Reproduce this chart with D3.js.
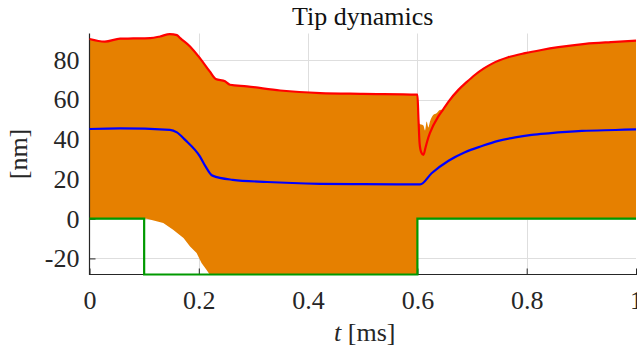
<!DOCTYPE html>
<html>
<head>
<meta charset="utf-8">
<script src="https://cdn.jsdelivr.net/npm/d3@7"></script>
<style>
  body { margin: 0; background: #fff; }
  svg { display: block; }
</style>
</head>
<body>
<svg width="637" height="351"></svg>
<script>
// upper envelope of the tip oscillation (red)
const tUpper = [0, 0.028, 0.056, 0.08, 0.111, 0.129, 0.147, 0.16, 0.166, 0.184,
  0.202, 0.22, 0.231, 0.248, 0.257, 0.288, 0.349, 0.422, 0.5, 0.6,
  0.602, 0.604, 0.607, 0.611, 0.615, 0.619, 0.623, 0.638, 0.647, 0.657,
  0.675, 0.69, 0.705, 0.721, 0.736, 0.766, 0.797, 0.827, 0.858, 0.907,
  0.954, 1];
const upper = [90.5, 89.2, 90.7, 90.8, 91.0, 91.8, 93.0, 92.5, 91.0, 86.8,
  80.9, 74.2, 70.4, 69.2, 67.5, 66.7, 64.6, 63.3, 62.9, 62.5,
  50, 38, 33.5, 32.2, 36, 40, 43.2, 51.4, 55.0, 59.0,
  64.9, 68.8, 72.4, 75.6, 78.0, 81.3, 83.4, 85.0, 86.4, 88.1,
  89.0, 89.7];

// mean tip position (blue)
const tMean = [0, 0.056, 0.147, 0.16, 0.175, 0.202, 0.212, 0.225, 0.262, 0.325,
  0.422, 0.5, 0.605, 0.626, 0.657, 0.687, 0.718, 0.748, 0.779, 0.809,
  0.84, 0.901, 0.962, 1];
const mean = [45.2, 45.5, 44.8, 43.5, 39.7, 31.4, 26.5, 21.7, 19.6, 18.5,
  17.6, 17.4, 17.3, 22.9, 29.2, 33.5, 36.6, 39.2, 41.0, 42.2,
  43.0, 44.2, 44.7, 45.0];

// lowest tip position reached (lower edge of the orange band)
const tLower = [0, 0.1, 0.105, 0.135, 0.153, 0.172, 0.184, 0.196, 0.205, 0.214,
  0.22, 0.23, 0.6, 0.6, 1];
const lower = [0, 0, 0, -2.2, -5.5, -9.7, -14, -17.3, -22.3, -25.7,
  -28.1, -32, -32, 0, 0];

// top of the band just after the snap-in at 0.6 ms
const tDip = [0.601, 0.603, 0.611, 0.614, 0.617, 0.620, 0.623, 0.629, 0.635, 0.641];
const dipTop = [62.5, 48, 47, 44.5, 49, 46, 49, 52.3, 53.1, 54.8];

// sample surface (green)
const tSurface = [0, 0.1, 0.1, 0.6, 0.6, 1];
const surface = [0, 0, -28.1, -28.1, 0, 0];

const xTicks = [0, 0.2, 0.4, 0.6, 0.8, 1];
const yTicks = [-20, 0, 20, 40, 60, 80];

const svg = d3.select('svg');
const font = 'Liberation Serif, Times New Roman, serif';
const ink = '#262626';

const x = d3.scaleLinear().domain([0, 1]).range([89.5, 636]);
const y = d3.scaleLinear().domain([-28.1, 93.3]).range([274.5, 33.5]);
const [x0, x1] = x.range();
const [yb, yt] = y.range();

const defs = svg.append('defs');
defs.append('clipPath').attr('id', 'plot')
  .append('rect').attr('x', x0 + 0.5).attr('y', yt).attr('width', x1 - x0).attr('height', yb - yt);

const lowerPts = tLower.map((t, i) => [t, lower[i]]);
defs.append('clipPath').attr('id', 'above-lower')
  .append('path')
  .attr('d', d3.area()
    .x(d => x(d[0]))
    .y0(d => y(d[1]))
    .y1(0)(lowerPts));

// grid
const grid = svg.append('g').attr('stroke', '#dedede').attr('stroke-width', 1);
grid.selectAll('.gx').data(xTicks.slice(1, -1)).enter().append('line')
  .attr('x1', d => Math.round(x(d)) + 0.5).attr('x2', d => Math.round(x(d)) + 0.5)
  .attr('y1', yt).attr('y2', yb);
grid.selectAll('.gy').data(yTicks).enter().append('line')
  .attr('x1', x0).attr('x2', x1)
  .attr('y1', d => Math.round(y(d)) + 0.5).attr('y2', d => Math.round(y(d)) + 0.5);

// axes (ticks under the data, like matlab's bottom layer)
const xAxis = svg.append('g')
  .attr('transform', 'translate(0,' + yb + ')')
  .call(d3.axisBottom(x).tickValues(xTicks).tickSize(-6).tickPadding(16).tickFormat(d => String(d)));
const yAxis = svg.append('g')
  .attr('transform', 'translate(' + x0 + ',0)')
  .call(d3.axisLeft(y).tickValues(yTicks).tickSize(-6).tickPadding(10).tickFormat(d => String(d)));
[xAxis, yAxis].forEach(a => {
  a.select('.domain').remove();
  a.attr('font-family', font).attr('font-size', 26);
  a.selectAll('line').attr('stroke', ink);
  a.selectAll('text').attr('fill', ink);
});

// orange band: top follows the red envelope, except around the snap-in
const fillPts = tUpper.map((t, i) => [t, upper[i]])
  .filter(d => d[0] <= 0.6 || d[0] >= 0.647)
  .concat(tDip.map((t, i) => [t, dipTop[i]]))
  .sort((a, b) => a[0] - b[0]);

svg.append('g').attr('clip-path', 'url(#plot)')
  .append('g').attr('clip-path', 'url(#above-lower)')
  .append('path')
  .attr('d', d3.area()
    .x(d => x(d[0]))
    .y0(yb)
    .y1(d => y(d[1]))
    .curve(d3.curveMonotoneX)(fillPts))
  .attr('fill', '#e68000');

// axis lines
svg.append('line').attr('x1', x0).attr('x2', x0).attr('y1', yt).attr('y2', yb + 0.5)
  .attr('stroke', ink).attr('stroke-width', 1.2);
svg.append('line').attr('x1', x0).attr('x2', x1 + 1).attr('y1', yb).attr('y2', yb)
  .attr('stroke', ink).attr('stroke-width', 1.2);

// lines
svg.append('path')
  .attr('d', d3.line().x(d => x(d[0])).y(d => y(d[1]))(tSurface.map((t, i) => [t, surface[i]])))
  .attr('fill', 'none').attr('stroke', '#009900').attr('stroke-width', 2.2);

svg.append('path')
  .attr('d', d3.line().x(d => x(d[0])).y(d => y(d[1])).curve(d3.curveMonotoneX)(tMean.map((t, i) => [t, mean[i]])))
  .attr('fill', 'none').attr('stroke', '#0000ff').attr('stroke-width', 2.2);

svg.append('path')
  .attr('d', d3.line().x(d => x(d[0])).y(d => y(d[1])).curve(d3.curveMonotoneX)(tUpper.map((t, i) => [t, upper[i]])))
  .attr('fill', 'none').attr('stroke', '#ff0000').attr('stroke-width', 2.2);

// labels
svg.append('text')
  .attr('x', (x0 + x1) / 2).attr('y', 25)
  .attr('text-anchor', 'middle')
  .attr('font-family', font).attr('font-size', 26).attr('fill', '#111')
  .text('Tip dynamics');

const xl = svg.append('text')
  .attr('x', (x0 + x1) / 2 + 2).attr('y', 341)
  .attr('text-anchor', 'middle')
  .attr('font-family', font).attr('font-size', 26).attr('fill', ink);
xl.append('tspan').attr('font-style', 'italic').text('t');
xl.append('tspan').text(' [ms]');

svg.append('text')
  .attr('transform', 'translate(27,' + (yt + yb) / 2 + ') rotate(-90)')
  .attr('text-anchor', 'middle')
  .attr('font-family', font).attr('font-size', 26).attr('fill', ink)
  .text('[nm]');
</script>
</body>
</html>
